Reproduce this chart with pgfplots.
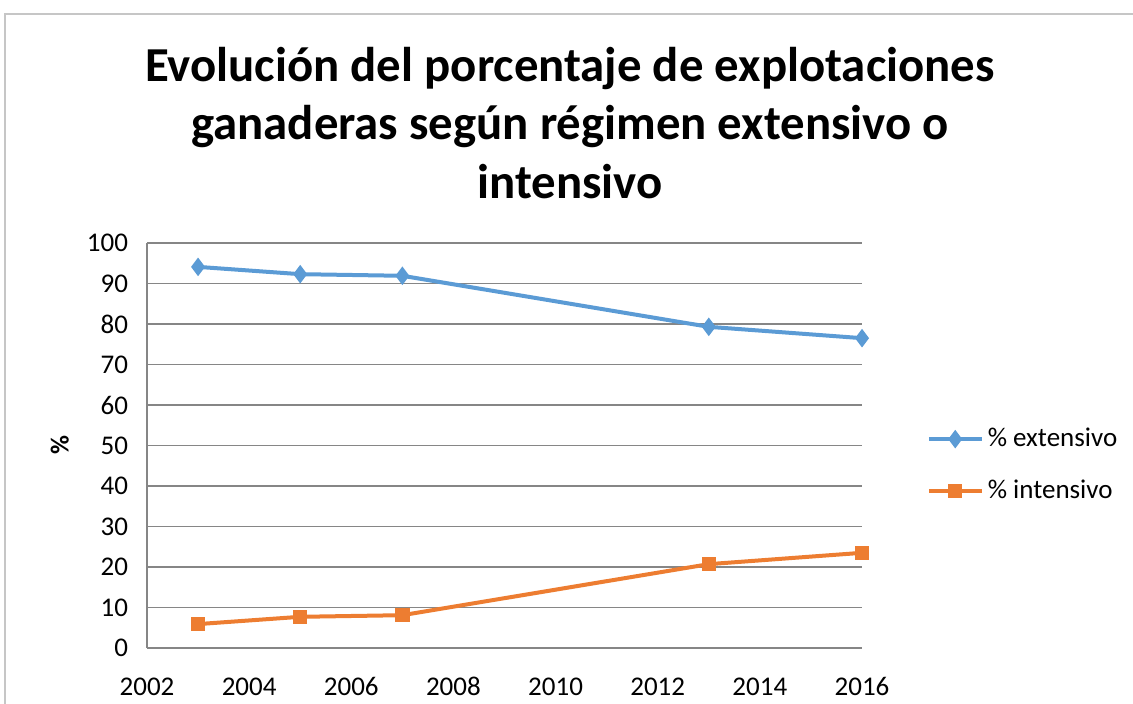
\documentclass[border=0pt]{standalone}
\usepackage{fontspec}
\setmainfont{Carlito}
\usepackage{pgfplots}
\pgfplotsset{compat=1.18}
\definecolor{cblue}{HTML}{5B9BD5}
\definecolor{corange}{HTML}{ED7D31}
\definecolor{gridgray}{HTML}{868686}
\begin{document}
\begin{tikzpicture}
\useasboundingbox (0pt,0pt) rectangle (566.5pt,352pt);
\draw[gray!45, line width=0.6pt] (2.5pt,-20pt) -- (2.5pt,345pt) -- (600pt,345pt);
\node[align=center, font=\bfseries\fontsize{24.4}{29.2}\selectfont] at (285pt,290.5pt)
  {Evolución del porcentaje de explotaciones\\ganaderas según régimen extensivo o\\intensivo};
\begin{axis}[
  at={(73.5pt,28pt)}, anchor=south west,
  scale only axis, width=357.5pt, height=202.5pt,
  xmin=2002, xmax=2016, ymin=0, ymax=100,
  xtick={2002,2004,...,2016}, ytick={0,10,...,100},
  /pgf/number format/assume math mode=true,
  xticklabel={\pgfmathprintnumber[1000 sep={}]{\tick}},
  tick label style={font=\fontsize{13.5}{15}\selectfont, text=black},
  xticklabel style={anchor=base, yshift=-24pt, text height=1.6ex, text depth=0.2ex},
  yticklabel style={xshift=-6pt},
  major tick length=0pt,
  axis x line*=bottom, axis y line*=left,
  axis line style={gridgray, line width=0.7pt},
  ymajorgrids, grid style={gridgray, line width=0.7pt},
  ylabel={\%}, ylabel style={at={(axis description cs:-0.122,0.5)}, anchor=center, font=\bfseries\fontsize{13}{15}\selectfont},
  clip=false,
  legend style={draw=none, fill=none, at={(1.09,0.452)}, anchor=west,
    font=\fontsize{13.5}{15}\selectfont, row sep=11pt, inner sep=0pt},
  legend cell align=left,
  legend image code/.code={\draw[mark repeat=2,mark phase=2] plot coordinates {(0pt,0pt)(13.25pt,0pt)(26.5pt,0pt)};},
]
\addplot[cblue, line width=2pt, mark=diamond*, mark size=3pt, mark options={solid}] coordinates {
  (2003,94.1) (2005,92.3) (2007,91.9) (2013,79.3) (2016,76.5)};
\addlegendentry{\% extensivo}
\addplot[corange, line width=2pt, mark=square*, mark size=2.6pt] coordinates {
  (2003,5.9) (2005,7.7) (2007,8.1) (2013,20.7) (2016,23.5)};
\addlegendentry{\% intensivo}
\end{axis}
\end{tikzpicture}
\end{document}
